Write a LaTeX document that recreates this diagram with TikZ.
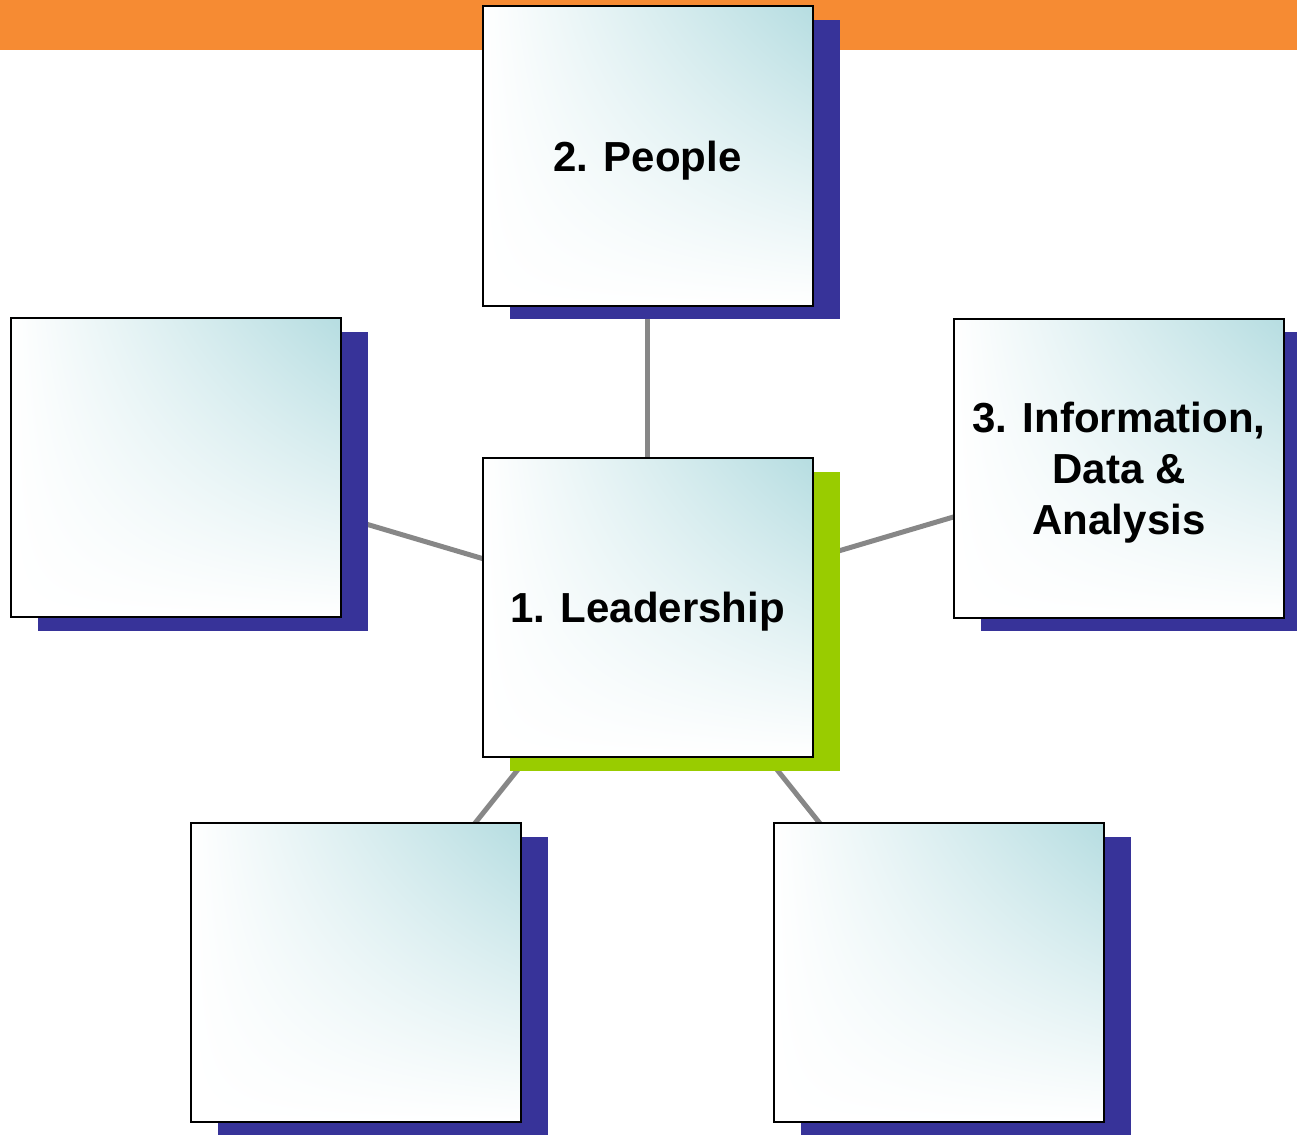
\documentclass[tikz,border=0pt]{standalone}
\usepackage{fontspec}
\setmainfont{Liberation Sans}
\usetikzlibrary{shadows,shadings,backgrounds}
\definecolor{bandorange}{HTML}{F68B33}
\definecolor{shadowblue}{HTML}{373399}
\definecolor{shadowgreen}{HTML}{99CC00}
\definecolor{boxteal}{HTML}{B6DDE1}
\definecolor{linkgray}{HTML}{878787}
\tikzset{
  card/.style={draw, line width=2pt, minimum width=330pt, minimum height=299pt,
    upper right=boxteal, upper left=white, lower left=white, lower right=white,
    align=center, text depth=0pt, font=\fontsize{42}{51}\selectfont\bfseries,
    general shadow={fill=#1, shadow xshift=27pt, shadow yshift=-13.5pt}},
  card/.default=shadowblue,
  link/.style={draw=linkgray, line width=5pt}
}
\begin{document}
\begin{tikzpicture}[x=1pt, y=-1pt]
			\useasboundingbox (0,0) rectangle (1297,1134);
			\fill[bandorange] (0,0) rectangle (1297,50);
			\node[card] (people) at (647.5,156) {2. People};
			\node[card] (empty1) at (175.5,467.5) {};
			\node[card] (info) at (1119,468) {3. Information,\\Data \&\\Analysis};
			\node[card=shadowgreen] (lead) at (647.5,607.5) {1. Leadership};
			\node[card] (empty2) at (355.5,972.5) {};
			\node[card] (empty3) at (939,972.5) {};
			\begin{scope}[on background layer]
				\draw[link] (lead.center) -- (people.center);
				\draw[link] (lead.center) -- (empty1.center);
				\draw[link] (lead.center) -- (info.center);
				\draw[link] (lead.center) -- (empty2.center);
				\draw[link] (lead.center) -- (empty3.center);
			\end{scope}
		\end{tikzpicture}
\end{document}
